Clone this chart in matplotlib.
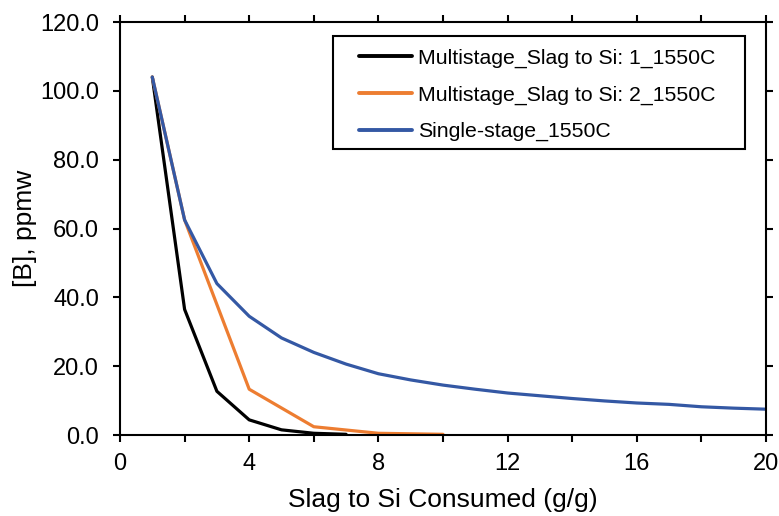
import numpy as np
import matplotlib
matplotlib.use('Agg')
from matplotlib import pyplot as plt
from matplotlib.ticker import MultipleLocator, FormatStrFormatter
from matplotlib.patches import Rectangle

plt.rcParams['font.family'] = ['Liberation Sans', 'DejaVu Sans']

# multistage, slag to Si 1 per stage
x_multi1 = [1, 2, 3, 4, 5, 6, 7]
b_multi1 = [104.0, 36.5, 12.7, 4.4, 1.5, 0.5, 0.2]

# multistage, slag to Si 2 per stage
x_multi2 = [1, 2, 4, 6, 8, 10]
b_multi2 = [104.0, 62.5, 13.3, 2.4, 0.5, 0.2]

# single stage
x_single = list(range(1, 21))
b_single = [104.0, 62.5, 44.0, 34.5, 28.2, 24.0, 20.6, 17.8, 16.0, 14.5,
            13.3, 12.2, 11.4, 10.6, 9.9, 9.3, 8.9, 8.2, 7.8, 7.5]

labels = ['Multistage_Slag to Si: 1_1550C', 'Multistage_Slag to Si: 2_1550C', 'Single-stage_1550C']
colors = ['#000000', '#ED7D31', '#3458A4']

W, H = 779, 516
fig = plt.figure(figsize=(W / 100, H / 100), dpi=100)
ax = fig.add_axes([120 / W, (H - 435) / H, 646 / W, 413 / H])

ax.plot(x_multi1, b_multi1, color=colors[0], lw=2.3, label=labels[0], solid_capstyle='round')
ax.plot(x_multi2, b_multi2, color=colors[1], lw=2.3, label=labels[1], solid_capstyle='round')
ax.plot(x_single, b_single, color=colors[2], lw=2.3, label=labels[2], solid_capstyle='round')

ax.set_xlim(0, 20)
ax.set_ylim(0, 120)
ax.xaxis.set_major_locator(MultipleLocator(4))
ax.xaxis.set_minor_locator(MultipleLocator(2))
ax.yaxis.set_major_locator(MultipleLocator(20))
ax.yaxis.set_major_formatter(FormatStrFormatter('%.1f'))

for s in ax.spines.values():
    s.set_linewidth(1.5)
ax.tick_params(which='both', direction='out', width=1.5, length=5,
               top=True, right=True, labelsize=17)
ax.tick_params(axis='x', pad=8)
ax.tick_params(axis='y', pad=10)

ax.set_xlabel('Slag to Si Consumed (g/g)', fontsize=19, labelpad=9)
ax.set_ylabel('[B], ppmw', fontsize=19, labelpad=2)

# legend text without its own frame, box drawn separately (wider side padding)
leg = ax.legend(loc='upper left', bbox_to_anchor=(348 / W, 1 - 38 / H), bbox_transform=fig.transFigure,
                fontsize=15.3, frameon=False, handlelength=2.5, handletextpad=0.28,
                borderpad=0, labelspacing=0.82)
for ln in leg.get_lines():
    ln.set_linewidth(2.8)
fig.patches.append(Rectangle((333 / W, 1 - 149 / H), 412 / W, 113 / H, transform=fig.transFigure,
                             fill=True, facecolor='white', edgecolor='black', lw=1.5, zorder=2))
leg.set_zorder(3)
leg.remove()
fig.add_artist(leg)

fig.savefig('out.png', dpi=100)
